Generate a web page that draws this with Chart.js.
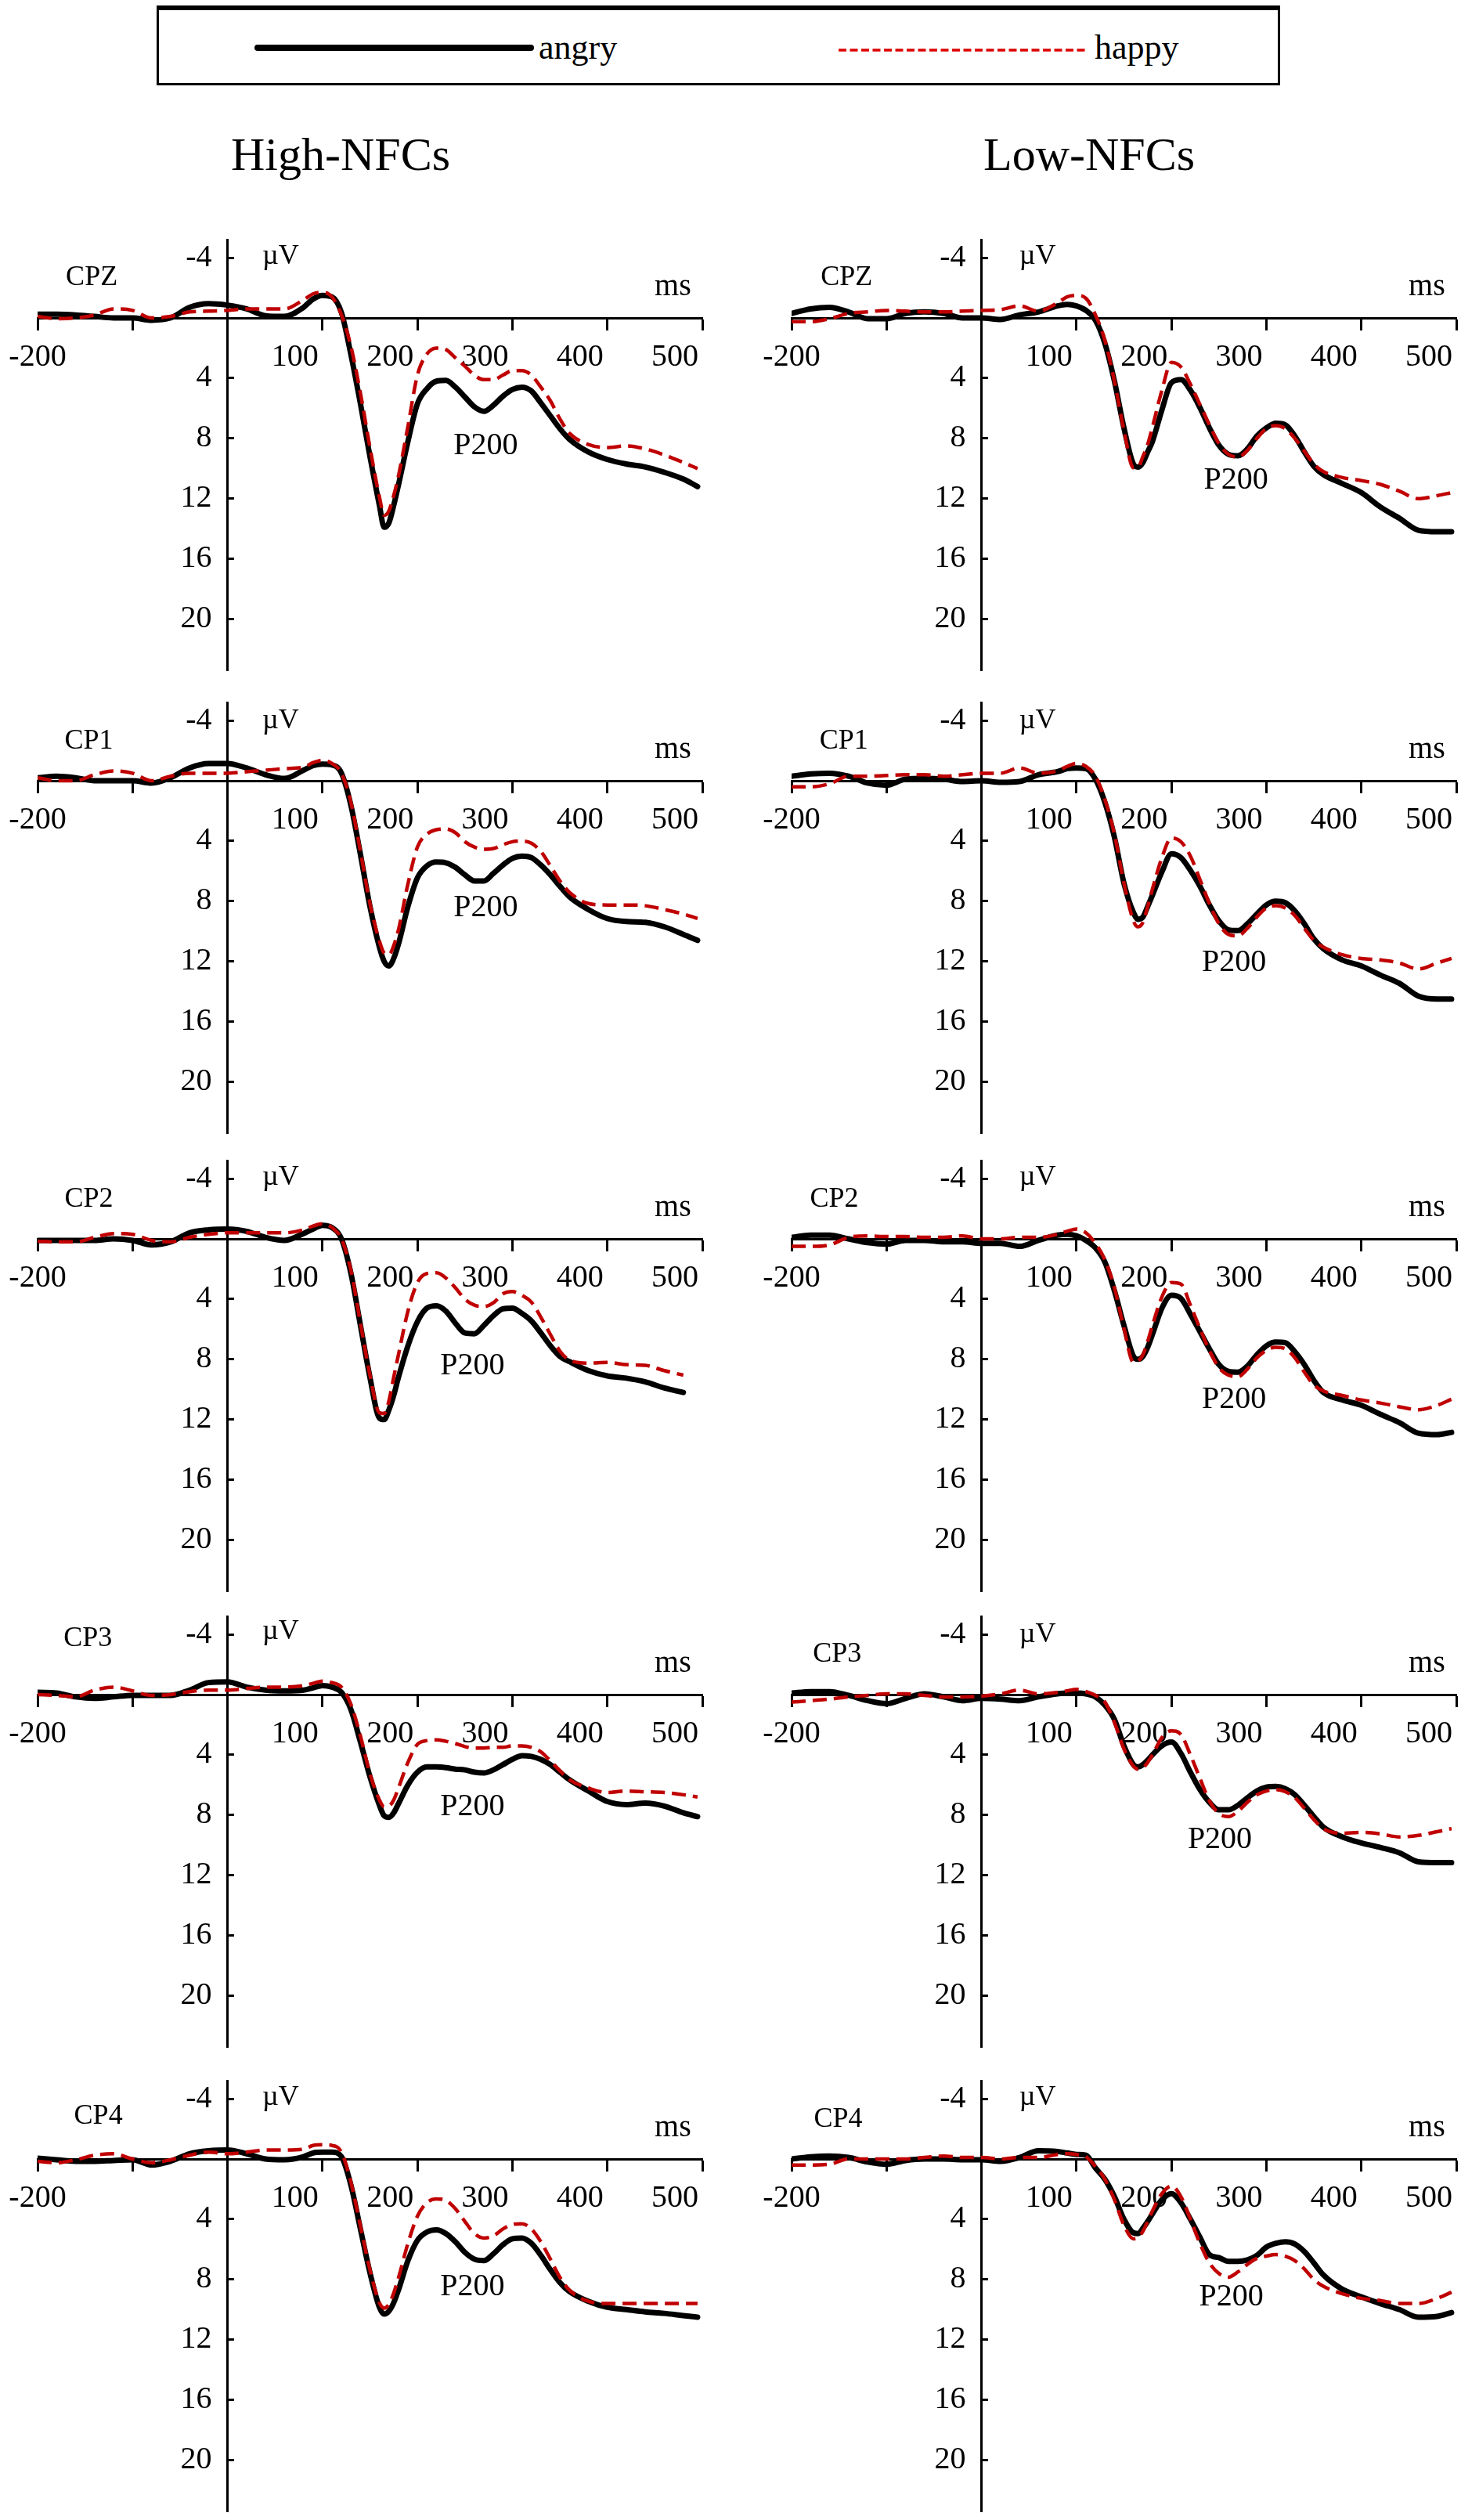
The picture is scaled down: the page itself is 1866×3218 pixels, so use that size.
<!DOCTYPE html>
<html>
<head>
<meta charset="utf-8">
<script src="https://cdn.jsdelivr.net/npm/chart.js@4.4.1/dist/chart.umd.min.js"></script>
<style>
  body { margin: 0; background: #fff; overflow: hidden; }
  #page { position: relative; width: 1866px; height: 3218px; overflow: hidden; font-family: 'Liberation Serif', 'Times New Roman', serif; }
  .head { position: absolute; font-size: 60px; transform: translate(-50%, -50%); white-space: nowrap; }
  #legendBox { position: absolute; left: 200px; top: 7px; width: 1435px; height: 102px; box-sizing: border-box; border: 3px solid #000; border-top-width: 6px; }
  #legendSvg { position: absolute; left: 0; top: 0; }
  canvas { position: absolute; }
</style>
</head>
<body>
<div id="page">
  <div id="legendBox"></div>
  <svg id="legendSvg" width="1866" height="120">
    <line x1="329" y1="61" x2="678" y2="61" stroke="#000" stroke-width="8" stroke-linecap="round"/>
    <text x="688" y="75" font-family="Liberation Serif" font-size="44">angry</text>
    <line x1="1071" y1="64" x2="1388" y2="64" stroke="#dd0000" stroke-width="3.5" stroke-dasharray="10,4.5"/>
    <text x="1398" y="75" font-family="Liberation Serif" font-size="44">happy</text>
  </svg>
  <div class="head" style="left:435px; top:197px;">High-NFCs</div>
  <div class="head" style="left:1391px; top:197px;">Low-NFCs</div>
</div>
<script>
// time points (ms)
const times = [-200,-180,-160,-140,-120,-100,-80,-60,-40,-20,0,20,40,60,80,90,100,110,120,130,140,150,160,165,170,175,180,190,200,210,220,230,240,250,260,270,280,290,300,310,320,330,340,350,360,380,400,420,440,460,480,495];

// axis ticks
const xTickValues = [-200,-100,0,100,200,300,400,500];
const xTickLabels = ['-200','','','100','200','300','400','500'];
const yTickValues = [-4,0,4,8,12,16,20];
const yTickLabels = ['-4','','4','8','12','16','20'];

// High-NFCs (uV)
const highCPZAngry = [-0.25,-0.25,-0.2,-0.1,0,0,0.15,0,-0.7,-0.95,-0.85,-0.6,-0.15,-0.1,-0.7,-1.25,-1.5,-1.4,-0.35,2.45,5.7,9.2,12.45,13.9,13.6,12.45,11.1,8.2,5.7,4.7,4.2,4.15,4.6,5.25,5.9,6.2,5.8,5.2,4.75,4.6,4.85,5.65,6.5,7.35,8.05,8.9,9.4,9.7,9.9,10.25,10.7,11.2];
const highCPZHappy = [-0.1,0.05,0,-0.2,-0.6,-0.5,0,-0.1,-0.4,-0.45,-0.5,-0.6,-0.6,-0.6,-1.2,-1.6,-1.7,-1.4,-0.2,1.9,5.0,8.6,11.9,13.1,12.8,11.8,10.5,7.2,3.8,2.4,2.0,2.1,2.65,3.2,3.8,4.1,4.1,3.8,3.5,3.5,3.8,4.6,5.5,6.7,7.65,8.4,8.6,8.5,8.7,9.1,9.6,10.0];
const highCP1Angry = [-0.2,-0.3,-0.2,0,0,0,0.15,-0.2,-0.85,-1.15,-1.15,-0.85,-0.4,-0.15,-0.7,-1.0,-1.1,-1.05,-0.5,1.65,4.9,8.35,11.05,12.0,12.3,11.8,10.85,8.35,6.45,5.65,5.4,5.45,5.75,6.25,6.65,6.65,6.15,5.6,5.15,5.0,5.1,5.6,6.25,7.0,7.7,8.55,9.15,9.35,9.4,9.7,10.2,10.6];
const highCP1Happy = [-0.2,0,0,-0.4,-0.65,-0.5,0,-0.3,-0.5,-0.5,-0.5,-0.6,-0.7,-0.8,-0.9,-1.2,-1.35,-1.15,-0.5,1.45,4.7,8.15,10.65,11.45,11.55,10.95,9.9,6.85,4.4,3.55,3.25,3.2,3.45,4.05,4.4,4.55,4.5,4.25,4.05,4.0,4.15,4.7,5.65,6.65,7.4,8.15,8.25,8.25,8.3,8.55,8.85,9.15];
const highCP2Angry = [0.1,0.1,0.1,0.1,0,0.1,0.4,0.2,-0.4,-0.6,-0.65,-0.5,-0.1,0.1,-0.35,-0.65,-0.9,-0.75,0,2.3,5.75,9.2,11.9,12.0,11.35,10.4,9.2,7.1,5.5,4.6,4.45,4.8,5.6,6.25,6.3,5.75,5.1,4.65,4.6,4.95,5.45,6.25,7.1,7.8,8.15,8.75,9.1,9.25,9.5,9.9,10.2,null];
const highCP2Happy = [0.15,0.2,0.2,-0.1,-0.35,-0.3,0.1,0.2,-0.1,-0.3,-0.4,-0.4,-0.4,-0.4,-0.6,-0.85,-1.0,-0.75,0,2.1,5.6,9.05,11.55,11.6,10.75,9.2,7.7,4.8,2.9,2.3,2.25,2.6,3.25,4.0,4.4,4.5,4.25,3.65,3.5,3.75,4.2,5.2,6.35,7.45,8.05,8.25,8.2,8.35,8.4,8.75,9.05,null];
const highCP3Angry = [-0.15,-0.1,0.15,0.25,0.15,0.05,0.05,0.05,-0.3,-0.8,-0.85,-0.5,-0.3,-0.25,-0.3,-0.45,-0.6,-0.5,-0.15,1.0,3.15,5.45,7.35,8.05,8.15,7.85,7.25,6.0,5.15,4.8,4.8,4.85,4.95,5.0,5.15,5.2,5.0,4.65,4.3,4.05,4.1,4.3,4.65,5.15,5.65,6.4,7.1,7.3,7.2,7.4,7.85,8.1];
const highCP3Happy = [0,0.05,0.15,-0.3,-0.5,-0.25,0.05,0,-0.2,-0.3,-0.3,-0.4,-0.5,-0.5,-0.6,-0.75,-0.9,-0.8,-0.5,0.65,2.75,5.25,7.0,7.45,7.4,7.0,6.2,4.5,3.3,3.05,3.0,3.1,3.25,3.45,3.55,3.55,3.5,3.5,3.4,3.4,3.5,3.8,4.4,5.05,5.65,6.2,6.5,6.4,6.45,6.5,6.65,6.8];
const highCP4Angry = [-0.05,0.05,0.15,0.15,0.1,0.05,0.4,0.15,-0.35,-0.55,-0.6,-0.35,0,0.05,-0.15,-0.4,-0.45,-0.45,-0.15,1.75,4.65,7.55,9.85,10.3,10.1,9.55,8.7,6.75,5.4,4.85,4.7,4.95,5.5,6.2,6.65,6.75,6.3,5.7,5.3,5.25,5.6,6.4,7.35,8.2,8.8,9.45,9.85,10.0,10.15,10.25,10.4,10.5];
const highCP4Happy = [0.15,0.25,0.05,-0.25,-0.35,0,0.25,0.05,-0.25,-0.45,-0.35,-0.45,-0.6,-0.6,-0.65,-0.9,-0.95,-0.9,-0.45,1.55,4.45,7.35,9.55,9.9,9.65,8.9,7.9,5.6,3.8,2.9,2.65,2.75,3.3,4.15,4.95,5.25,5.1,4.65,4.35,4.3,4.65,5.5,6.65,7.85,8.7,9.45,9.6,9.6,9.6,9.6,9.6,9.6];

// Low-NFCs (uV)
const lowCPZAngry = [-0.3,-0.6,-0.7,-0.4,0.05,0.05,-0.3,-0.4,-0.3,0,0,0.1,-0.2,-0.4,-0.8,-0.9,-0.8,-0.5,0.15,1.7,4.2,7.3,9.7,9.9,9.6,8.9,8.2,6.1,4.3,4.1,4.8,5.95,7.3,8.45,9.05,9.15,8.7,7.85,7.3,7.0,7.1,7.85,8.9,9.85,10.4,11.0,11.6,12.55,13.3,14.1,14.2,14.2];
const lowCPZHappy = [0.25,0.25,0.05,-0.3,-0.4,-0.5,-0.45,-0.4,-0.4,-0.45,-0.5,-0.55,-0.8,-0.45,-1.0,-1.4,-1.5,-1.3,-0.2,1.5,4.2,7.45,9.95,9.9,9.2,8.4,7.25,4.8,2.95,3.25,4.4,5.75,7.1,8.35,9.05,9.25,8.8,8.0,7.35,7.15,7.35,8.0,8.85,9.7,10.2,10.6,10.8,11.05,11.5,12.0,11.8,11.6];
const lowCP1Angry = [-0.3,-0.45,-0.5,-0.3,0.15,0.3,-0.1,-0.15,-0.1,0.05,0,0.1,0.05,-0.4,-0.6,-0.8,-0.85,-0.8,-0.1,1.45,3.75,6.8,8.75,9.2,9.05,8.35,7.6,6.05,4.85,5.1,5.95,7.0,8.25,9.3,9.9,9.95,9.5,8.85,8.25,8.0,8.1,8.65,9.5,10.5,11.15,11.9,12.3,12.9,13.45,14.3,14.5,14.5];
const lowCP1Happy = [0.4,0.4,0.2,-0.3,-0.3,-0.35,-0.4,-0.4,-0.3,-0.4,-0.5,-0.5,-0.85,-0.5,-0.65,-0.95,-1.15,-0.95,-0.3,1.25,3.55,6.8,9.3,9.7,9.4,8.35,7.2,5.1,3.8,4.05,5.0,6.55,8.15,9.5,10.2,10.3,9.8,9.05,8.45,8.3,8.45,8.95,9.8,10.6,11.05,11.55,11.8,11.9,12.1,12.5,12.1,11.8];
const lowCP2Angry = [-0.1,-0.25,-0.25,0,0.25,0.35,0.1,0.1,0.2,0.2,0.3,0.3,0.5,0.1,-0.25,-0.3,-0.2,0.1,0.6,1.55,3.45,5.75,7.8,8.0,7.8,7.2,6.35,4.6,3.75,3.95,5.0,6.15,7.3,8.35,8.8,8.85,8.45,7.7,7.1,6.85,6.9,7.5,8.35,9.4,10.2,10.7,11.05,11.65,12.2,12.9,13.0,12.85];
const lowCP2Happy = [0.5,0.5,0.4,-0.1,-0.2,-0.15,-0.15,-0.1,-0.1,-0.2,0,0,-0.1,-0.1,-0.3,-0.5,-0.65,-0.4,0.3,1.4,3.25,5.95,8.2,8.1,7.7,6.8,5.75,3.85,2.9,3.0,4.4,5.95,7.4,8.55,9.05,9.15,8.65,7.9,7.4,7.2,7.3,7.9,8.85,9.7,10.1,10.4,10.7,10.9,11.15,11.35,11.05,10.65];
const lowCP3Angry = [-0.1,-0.2,-0.2,0.05,0.4,0.6,0.25,-0.05,0.15,0.4,0.25,0.3,0.4,0.15,-0.05,-0.1,-0.1,-0.05,0.15,0.7,1.65,3.4,4.65,4.8,4.65,4.35,4.0,3.4,3.15,3.9,5.15,6.3,7.15,7.65,7.65,7.35,6.85,6.4,6.15,6.1,6.25,6.65,7.35,8.1,8.8,9.45,9.85,10.15,10.5,11.1,11.15,11.15];
const lowCP3Happy = [0.5,0.4,0.3,0.15,0.05,-0.05,-0.05,0.05,0.15,0.15,0.1,-0.05,-0.3,-0.05,-0.15,-0.25,-0.35,-0.2,0.05,0.5,1.85,3.6,4.75,4.95,4.85,4.5,4.0,2.85,2.4,2.65,4.0,5.55,7.05,7.9,8.1,7.75,7.15,6.65,6.4,6.3,6.45,6.85,7.55,8.3,8.9,9.2,9.15,9.25,9.45,9.35,9.1,8.9];
const lowCP4Angry = [0,-0.15,-0.2,-0.1,0.2,0.35,0.1,0,0,0.05,0.05,0.15,-0.1,-0.55,-0.5,-0.4,-0.3,-0.25,0.6,1.35,2.5,4.0,4.9,4.95,4.6,4.15,3.65,2.7,2.3,2.9,4.0,5.2,6.35,6.55,6.8,6.8,6.7,6.4,5.85,5.6,5.5,5.65,6.15,6.9,7.7,8.65,9.15,9.6,10.0,10.5,10.45,10.2];
const lowCP4Happy = [0.4,0.4,0.35,0,0,0,0,-0.1,-0.2,-0.1,-0.1,0,-0.1,-0.1,-0.3,-0.35,-0.3,-0.15,0.5,1.35,2.7,4.4,5.3,5.2,4.8,4.15,3.45,2.3,1.8,2.5,4.0,5.6,6.9,7.6,7.85,7.5,7.0,6.6,6.45,6.35,6.45,6.75,7.3,8.0,8.45,8.95,9.25,9.4,9.6,9.6,9.25,8.85];

// where each plot area sits on the page: zero line per row, x span per column
const rowZero = [406, 997, 1582, 2164, 2757];
const colSpan = [[48, 897], [1011, 1860]];

const panels = [
  {col: 0, row: 0, site: 'CPZ', angry: highCPZAngry, happy: highCPZHappy, siteAt: [-143, -2.7], uvAt: [56, -4.1], p200At: [272, 8.5]},
  {col: 1, row: 0, site: 'CPZ', angry: lowCPZAngry,  happy: lowCPZHappy,  siteAt: [-142, -2.7], uvAt: [59, -4.1], p200At: [268, 10.8]},
  {col: 0, row: 1, site: 'CP1', angry: highCP1Angry, happy: highCP1Happy, siteAt: [-146, -2.6], uvAt: [56, -4.0], p200At: [272, 8.45]},
  {col: 1, row: 1, site: 'CP1', angry: lowCP1Angry,  happy: lowCP1Happy,  siteAt: [-145, -2.6], uvAt: [59, -4.0], p200At: [266, 12.1]},
  {col: 0, row: 2, site: 'CP2', angry: highCP2Angry, happy: highCP2Happy, siteAt: [-146, -2.6], uvAt: [56, -4.1], p200At: [258, 8.45]},
  {col: 1, row: 2, site: 'CP2', angry: lowCP2Angry,  happy: lowCP2Happy,  siteAt: [-155, -2.6], uvAt: [59, -4.1], p200At: [266, 10.7]},
  {col: 0, row: 3, site: 'CP3', angry: highCP3Angry, happy: highCP3Happy, siteAt: [-147, -3.7], uvAt: [56, -4.2], p200At: [258, 7.45]},
  {col: 1, row: 3, site: 'CP3', angry: lowCP3Angry,  happy: lowCP3Happy,  siteAt: [-152, -2.65], uvAt: [59, -4.0], p200At: [251, 9.65]},
  {col: 0, row: 4, site: 'CP4', angry: highCP4Angry, happy: highCP4Happy, siteAt: [-136, -2.85], uvAt: [56, -4.1], p200At: [258, 8.5]},
  {col: 1, row: 4, site: 'CP4', angry: lowCP4Angry,  happy: lowCP4Happy,  siteAt: [-151, -2.6], uvAt: [59, -4.1], p200At: [263, 9.2]}
];

Chart.defaults.font.family = "'Liberation Serif', 'Times New Roman', serif";
Chart.defaults.color = '#000';

// draws the site name, units and P200 tag in data coordinates
const panelText = {
  id: 'panelText',
  afterDraw(chart, args, opts) {
    const {ctx, scales: {x, y}} = chart;
    ctx.save();
    ctx.fillStyle = '#000';
    ctx.textAlign = 'center';
    ctx.textBaseline = 'middle';
    opts.items.forEach(it => {
      ctx.font = it.size + "px 'Liberation Serif'";
      ctx.fillText(it.text, x.getPixelForValue(it.at[0]), y.getPixelForValue(it.at[1]));
    });
    ctx.restore();
  }
};

function panelConfig(p) {
  return {
    type: 'line',
    data: {
      datasets: [
        {
          label: 'happy',
          data: times.map((t, i) => ({x: t, y: p.happy[i]})),
          borderColor: '#c00000',
          borderWidth: 4.5,
          borderDash: [18, 9],
          pointRadius: 0,
          cubicInterpolationMode: 'monotone'
        },
        {
          label: 'angry',
          data: times.map((t, i) => ({x: t, y: p.angry[i]})),
          borderColor: '#000',
          borderWidth: 7,
          borderCapStyle: 'round',
          borderJoinStyle: 'round',
          pointRadius: 0,
          cubicInterpolationMode: 'monotone'
        }
      ]
    },
    options: {
      responsive: false,
      animation: false,
      layout: {padding: {left: 60, right: 60, top: 40, bottom: 20}},
      plugins: {
        legend: {display: false},
        tooltip: {enabled: false},
        panelText: {
          items: [
            {text: p.site, at: p.siteAt, size: 36},
            {text: 'µV', at: p.uvAt, size: 36},
            {text: 'ms', at: [469, -2.05], size: 40},
            {text: 'P200', at: p.p200At, size: 40}
          ]
        }
      },
      scales: {
        x: {
          type: 'linear',
          min: -200,
          max: 500,
          bounds: 'data',
          position: {y: 0},
          afterBuildTicks: s => { s.ticks = xTickValues.map(v => ({value: v})); },
          afterFit: s => { s.height = 0; },
          ticks: {
            autoSkip: false,
            maxRotation: 0,
            minRotation: 0,
            padding: 12,
            font: {size: 40},
            callback: v => {
              const lab = xTickLabels[xTickValues.indexOf(v)];
              return v > 0 ? lab + '       ' : lab;
            }
          },
          grid: {drawOnChartArea: false, drawTicks: true, tickLength: 14, tickWidth: 3, tickColor: '#000'},
          border: {display: true, color: '#000', width: 3}
        },
        y: {
          type: 'linear',
          min: -5.2,
          max: 23.4,
          bounds: 'data',
          reverse: true,
          position: {x: 0},
          afterBuildTicks: s => { s.ticks = yTickValues.map(v => ({value: v})); },
          afterFit: s => { s.width = 0; },
          ticks: {
            padding: 0,
            font: {size: 40},
            callback: v => {
              const lab = yTickLabels[yTickValues.indexOf(v)];
              return lab ? lab + '  ' : lab;
            }
          },
          grid: {drawOnChartArea: false, drawTicks: true, tickLength: -10, tickWidth: 3, tickColor: '#000'},
          border: {display: true, color: '#000', width: 3}
        }
      }
    },
    plugins: [panelText]
  };
}

const page = document.getElementById('page');

// build a panel, resizing the canvas until the plot area has the wanted size,
// then place the canvas so the plot area lands on its spot in the page
function buildPanel(p) {
  const left = colSpan[p.col][0], right = colSpan[p.col][1];
  const top = rowZero[p.row] - 100, bottom = rowZero[p.row] + 450;
  let w = right - left + 140, h = bottom - top + 80;
  let cv = null, chart = null;
  for (let k = 0; k < 4; k++) {
    if (chart) chart.destroy();
    if (cv) cv.remove();
    cv = document.createElement('canvas');
    cv.width = w;
    cv.height = h;
    cv.style.width = w + 'px';
    cv.style.height = h + 'px';
    page.appendChild(cv);
    chart = new Chart(cv.getContext('2d'), panelConfig(p));
    const a = chart.chartArea;
    const dw = Math.round((right - left) - (a.right - a.left));
    const dh = Math.round((bottom - top) - (a.bottom - a.top));
    if (dw === 0 && dh === 0) break;
    w += dw;
    h += dh;
  }
  const a = chart.chartArea;
  cv.style.left = (left - a.left) + 'px';
  cv.style.top = (top - a.top) + 'px';
}

panels.forEach(buildPanel);
</script>
</body>
</html>
